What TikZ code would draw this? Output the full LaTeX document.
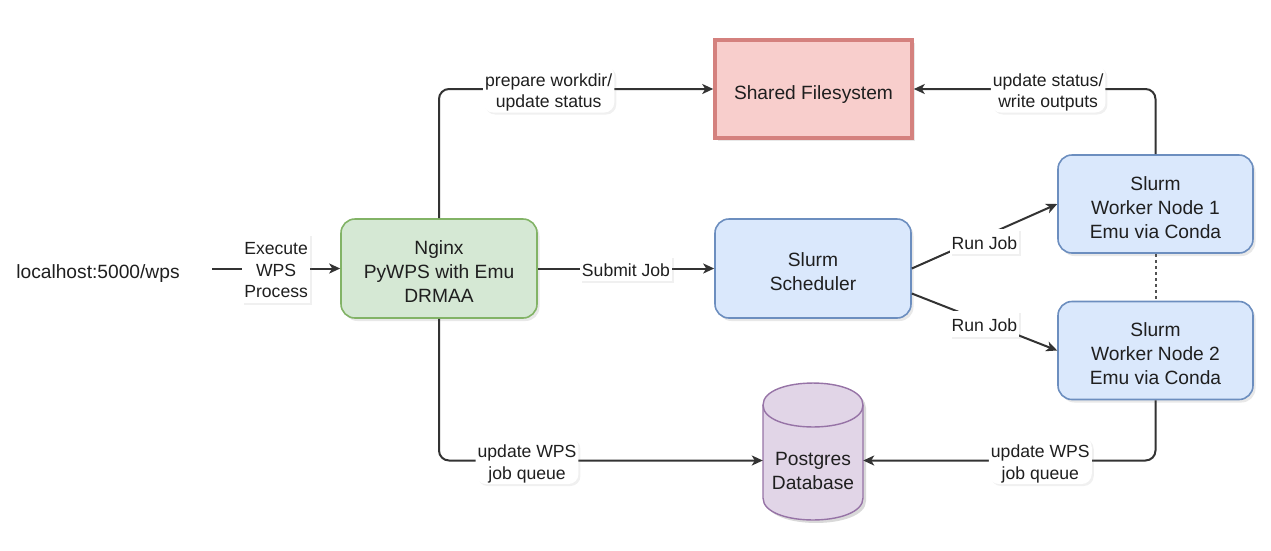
\documentclass[tikz,border=0pt]{standalone}
\usepackage{fontspec}
\setmainfont{Liberation Sans}
\usetikzlibrary{arrows.meta,shadows,calc}
\definecolor{txt}{HTML}{1F1F1F}
\definecolor{lin}{HTML}{333333}
\definecolor{gfill}{HTML}{D5E8D4}
\definecolor{gline}{HTML}{82B366}
\definecolor{bfill}{HTML}{DAE8FC}
\definecolor{bline}{HTML}{6C8EBF}
\definecolor{rfill}{HTML}{F8CECC}
\definecolor{rline}{HTML}{D4817E}
\definecolor{pfill}{HTML}{E1D5E7}
\definecolor{pline}{HTML}{9673A6}
\newcommand\dn[1]{\raisebox{-3.5pt}[\height][\depth]{\begin{tabular}{@{}c@{}}#1\end{tabular}}}
\newcommand\bdn[1]{\raisebox{-5.5pt}[\height][\depth]{\begin{tabular}{@{}c@{}}#1\end{tabular}}}
\begin{document}
\begin{tikzpicture}[x=1pt,y=-1pt,
  box/.style={rectangle, rounded corners=14pt, minimum width=196pt, minimum height=99pt,
    line width=1.6pt, align=center, font=\fontsize{19.2}{24}\selectfont, text=txt,
    drop shadow={opacity=0.18, shadow xshift=2.5pt, shadow yshift=-3pt}},
  greenbox/.style={box, fill=gfill, draw=gline},
  bluebox/.style={box, fill=bfill, draw=bline},
  conn/.style={draw=lin, line width=2pt, -{Stealth[length=11pt,width=10pt,inset=3pt]}},
  lbl/.style={fill=white, inner sep=2pt, align=center, text=txt,
    font=\fontsize{17.6}{21.5}\selectfont,
    drop shadow={opacity=0.12, shadow xshift=2pt, shadow yshift=-2pt}},
  plain/.style={font=\fontsize{19.2}{24}\selectfont, text=txt, align=center}
]
\useasboundingbox (0,0) rectangle (1271,550);

% nodes
\node[plain] (src) at (98,274) {localhost:5000/wps};
\coordinate (srcend) at (212,268.5);
\node[greenbox] (ng) at (439,268.5) {\bdn{Nginx\\PyWPS with Emu\\DRMAA}};
\node[bluebox] (sch) at (813,268.5) {\bdn{Slurm\\Scheduler}};
\node[box, rounded corners=0pt, minimum width=197pt, minimum height=98pt,
      fill=rfill, draw=rline, line width=3.5pt] (sfs) at (813.5,89) {\bdn{Shared Filesystem}};
\node[bluebox, minimum width=195pt, minimum height=98pt] (w1) at (1155.5,204)
  {\bdn{Slurm\\Worker Node 1\\Emu via Conda}};
\node[bluebox, minimum width=195pt, minimum height=98pt] (w2) at (1155.5,350.5)
  {\bdn{Slurm\\Worker Node 2\\Emu via Conda}};

% Postgres cylinder
\node[rectangle, minimum width=100pt, minimum height=137pt, inner sep=0pt] (pg) at (813,451.5) {};
\fill[black, opacity=0.15]
  (766,408) -- (766,501) .. controls (766,530.3) and (866,530.3) .. (866,501)
  -- (866,408) .. controls (866,378.7) and (766,378.7) .. cycle;
\filldraw[fill=pfill, draw=pline, line width=1.4pt]
  (763,405) -- (763,498) .. controls (763,527.3) and (863,527.3) .. (863,498)
  -- (863,405) .. controls (863,375.7) and (763,375.7) .. cycle;
\draw[pline, line width=1.4pt] (763,405) .. controls (763,434.3) and (863,434.3) .. (863,405);
\node[plain] (pgtext) at (813,471) {Postgres\\Database};

% connectors
\draw[conn] (srcend) -- node[lbl] (l1) {\dn{Execute\\WPS\\Process}} (ng.west);
\draw[conn, rounded corners=10pt] (ng.north) |- node[lbl, pos=0.70] (l2) {\dn{prepare workdir/\\update status}} (sfs.west);
\draw[conn, rounded corners=10pt] (ng.south) |- node[lbl, pos=0.636] (l3) {\dn{update WPS\\job queue}} ($(pg.west)+(0,9)$);
\draw[conn] (ng.east) -- node[lbl] (l4) {\dn{Submit Job}} (sch.west);
\draw[conn] (sch.east) -- node[lbl, yshift=-5pt] (l5) {\dn{Run Job}} (w1.west);
\draw[conn] ($(sch.east)+(0,25)$) -- node[lbl, yshift=-2pt] (l6) {\dn{Run Job}} (w2.west);
\draw[conn, rounded corners=10pt] (w1.north) |- node[lbl, pos=0.722] (l7) {\dn{update status/\\write outputs}} (sfs.east);
\draw[conn, rounded corners=10pt] (w2.south) |- node[lbl, pos=0.697] (l8) {\dn{update WPS\\job queue}} ($(pg.east)+(0,9)$);
\draw[draw=lin!85, line width=2pt, dash pattern=on 3pt off 3pt] (w1.south) -- (w2.north);
\end{tikzpicture}
\end{document}
